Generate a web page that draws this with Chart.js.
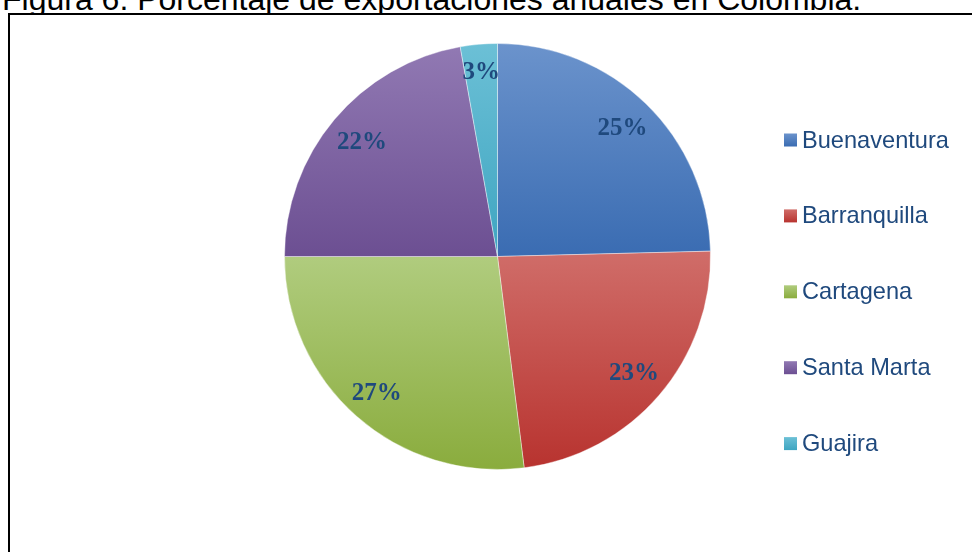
<!DOCTYPE html>
<html>
<head>
<meta charset="utf-8">
<script src="https://cdn.jsdelivr.net/npm/chart.js@4.4.0/dist/chart.umd.min.js"></script>
<style>
  body { margin: 0; width: 972px; height: 552px; overflow: hidden; background: #fff; position: relative; }
  .title { position: absolute; left: 2px; top: -17px; line-height: 32px; font-size: 32px; font-family: "Liberation Sans", Arial, sans-serif; white-space: nowrap; color: #000; }
  .frame { position: absolute; left: 8px; top: 13px; width: 1000px; height: 600px; border: 2px solid #000; background: #fff; }
  #pie { position: absolute; left: 0; top: 0; }
</style>
</head>
<body>
<div class="title">Figura 6. Porcentaje de exportaciones anuales en Colombia.</div>
<div class="frame"></div>
<canvas id="pie" width="972" height="552"></canvas>
<script>
// data
const ports = ['Buenaventura', 'Barranquilla', 'Cartagena', 'Santa Marta', 'Guajira'];
const shares = [24.6, 23.4, 27.0, 22.2, 2.8];
const pctLabels = ['25%', '23%', '27%', '22%', '3%'];

// office-style gradient fills, light at top and dark at bottom
const topColors = ['#6b93cc', '#d06d69', '#b0cc7e', '#9179b3', '#6cc0d6'];
const bottomColors = ['#3a6cb2', '#b8332f', '#8aac3d', '#6c4f92', '#3ea5c1'];
const labelRadius = [0.84, 0.845, 0.857, 0.83, 0.867];

let sum = (a, b) => a + b;

// vertical gradient over the bounding box of each slice
function sliceFill(c) {
  let i = c.dataIndex;
  let chart = c.chart;
  let area = chart.chartArea;
  if (!area || i === undefined) return topColors[i || 0];
  let cx = (area.left + area.right) / 2;
  let cy = (area.top + area.bottom) / 2;
  let r = Math.min(area.width, area.height) / 2;
  let total = shares.reduce(sum, 0);
  let a0 = shares.slice(0, i).reduce(sum, 0) / total * 2 * Math.PI - Math.PI / 2;
  let a1 = a0 + shares[i] / total * 2 * Math.PI;
  let ys = [cy, cy + r * Math.sin(a0), cy + r * Math.sin(a1)];
  [-Math.PI / 2, Math.PI / 2, 3 * Math.PI / 2].forEach(t => {
    if (t >= a0 && t <= a1) ys.push(cy + r * Math.sin(t));
  });
  let g = chart.ctx.createLinearGradient(0, Math.min(...ys), 0, Math.max(...ys));
  g.addColorStop(0, topColors[i]);
  g.addColorStop(1, bottomColors[i]);
  return g;
}

// percentage labels inside the slices
const pctLabelPlugin = {
  id: 'pctLabels',
  afterDatasetsDraw(chart) {
    let ctx = chart.ctx;
    let meta = chart.getDatasetMeta(0);
    ctx.save();
    ctx.font = 'bold 25px "Liberation Serif", serif';
    ctx.fillStyle = '#1F497D';
    ctx.textAlign = 'center';
    ctx.textBaseline = 'middle';
    meta.data.forEach((arc, i) => {
      let p = arc.getProps(['x', 'y', 'startAngle', 'endAngle', 'outerRadius'], true);
      let mid = (p.startAngle + p.endAngle) / 2;
      let rr = p.outerRadius * labelRadius[i];
      ctx.fillText(pctLabels[i], p.x + Math.cos(mid) * rr, p.y + Math.sin(mid) * rr);
    });
    ctx.restore();
  }
};

// legend on the right, one port per row
const sideLegendPlugin = {
  id: 'sideLegend',
  afterDraw(chart) {
    let ctx = chart.ctx;
    let boxX = 784, firstY = 140, step = 75.9, box = 13;
    ctx.save();
    ctx.font = '23.6px "Liberation Sans", Arial, sans-serif';
    ctx.textBaseline = 'middle';
    chart.data.labels.forEach((name, i) => {
      let y = firstY + i * step;
      let g = ctx.createLinearGradient(0, y - box / 2, 0, y + box / 2);
      g.addColorStop(0, topColors[i]);
      g.addColorStop(1, bottomColors[i]);
      ctx.fillStyle = g;
      ctx.fillRect(boxX, y - box / 2, box, box);
      ctx.fillStyle = '#1F497D';
      ctx.fillText(name, boxX + box + 5, y + 1);
    });
    ctx.restore();
  }
};

new Chart(document.getElementById('pie'), {
  type: 'pie',
  data: {
    labels: ports,
    datasets: [{
      data: shares,
      backgroundColor: sliceFill,
      borderColor: 'rgba(255,255,255,0.4)',
      borderWidth: 1
    }]
  },
  options: {
    responsive: false,
    animation: false,
    devicePixelRatio: 1,
    events: [],
    layout: { padding: { left: 284, right: 261, top: 43, bottom: 82 } },
    plugins: {
      legend: { display: false },
      tooltip: { enabled: false }
    }
  },
  plugins: [pctLabelPlugin, sideLegendPlugin]
});
</script>
</body>
</html>
